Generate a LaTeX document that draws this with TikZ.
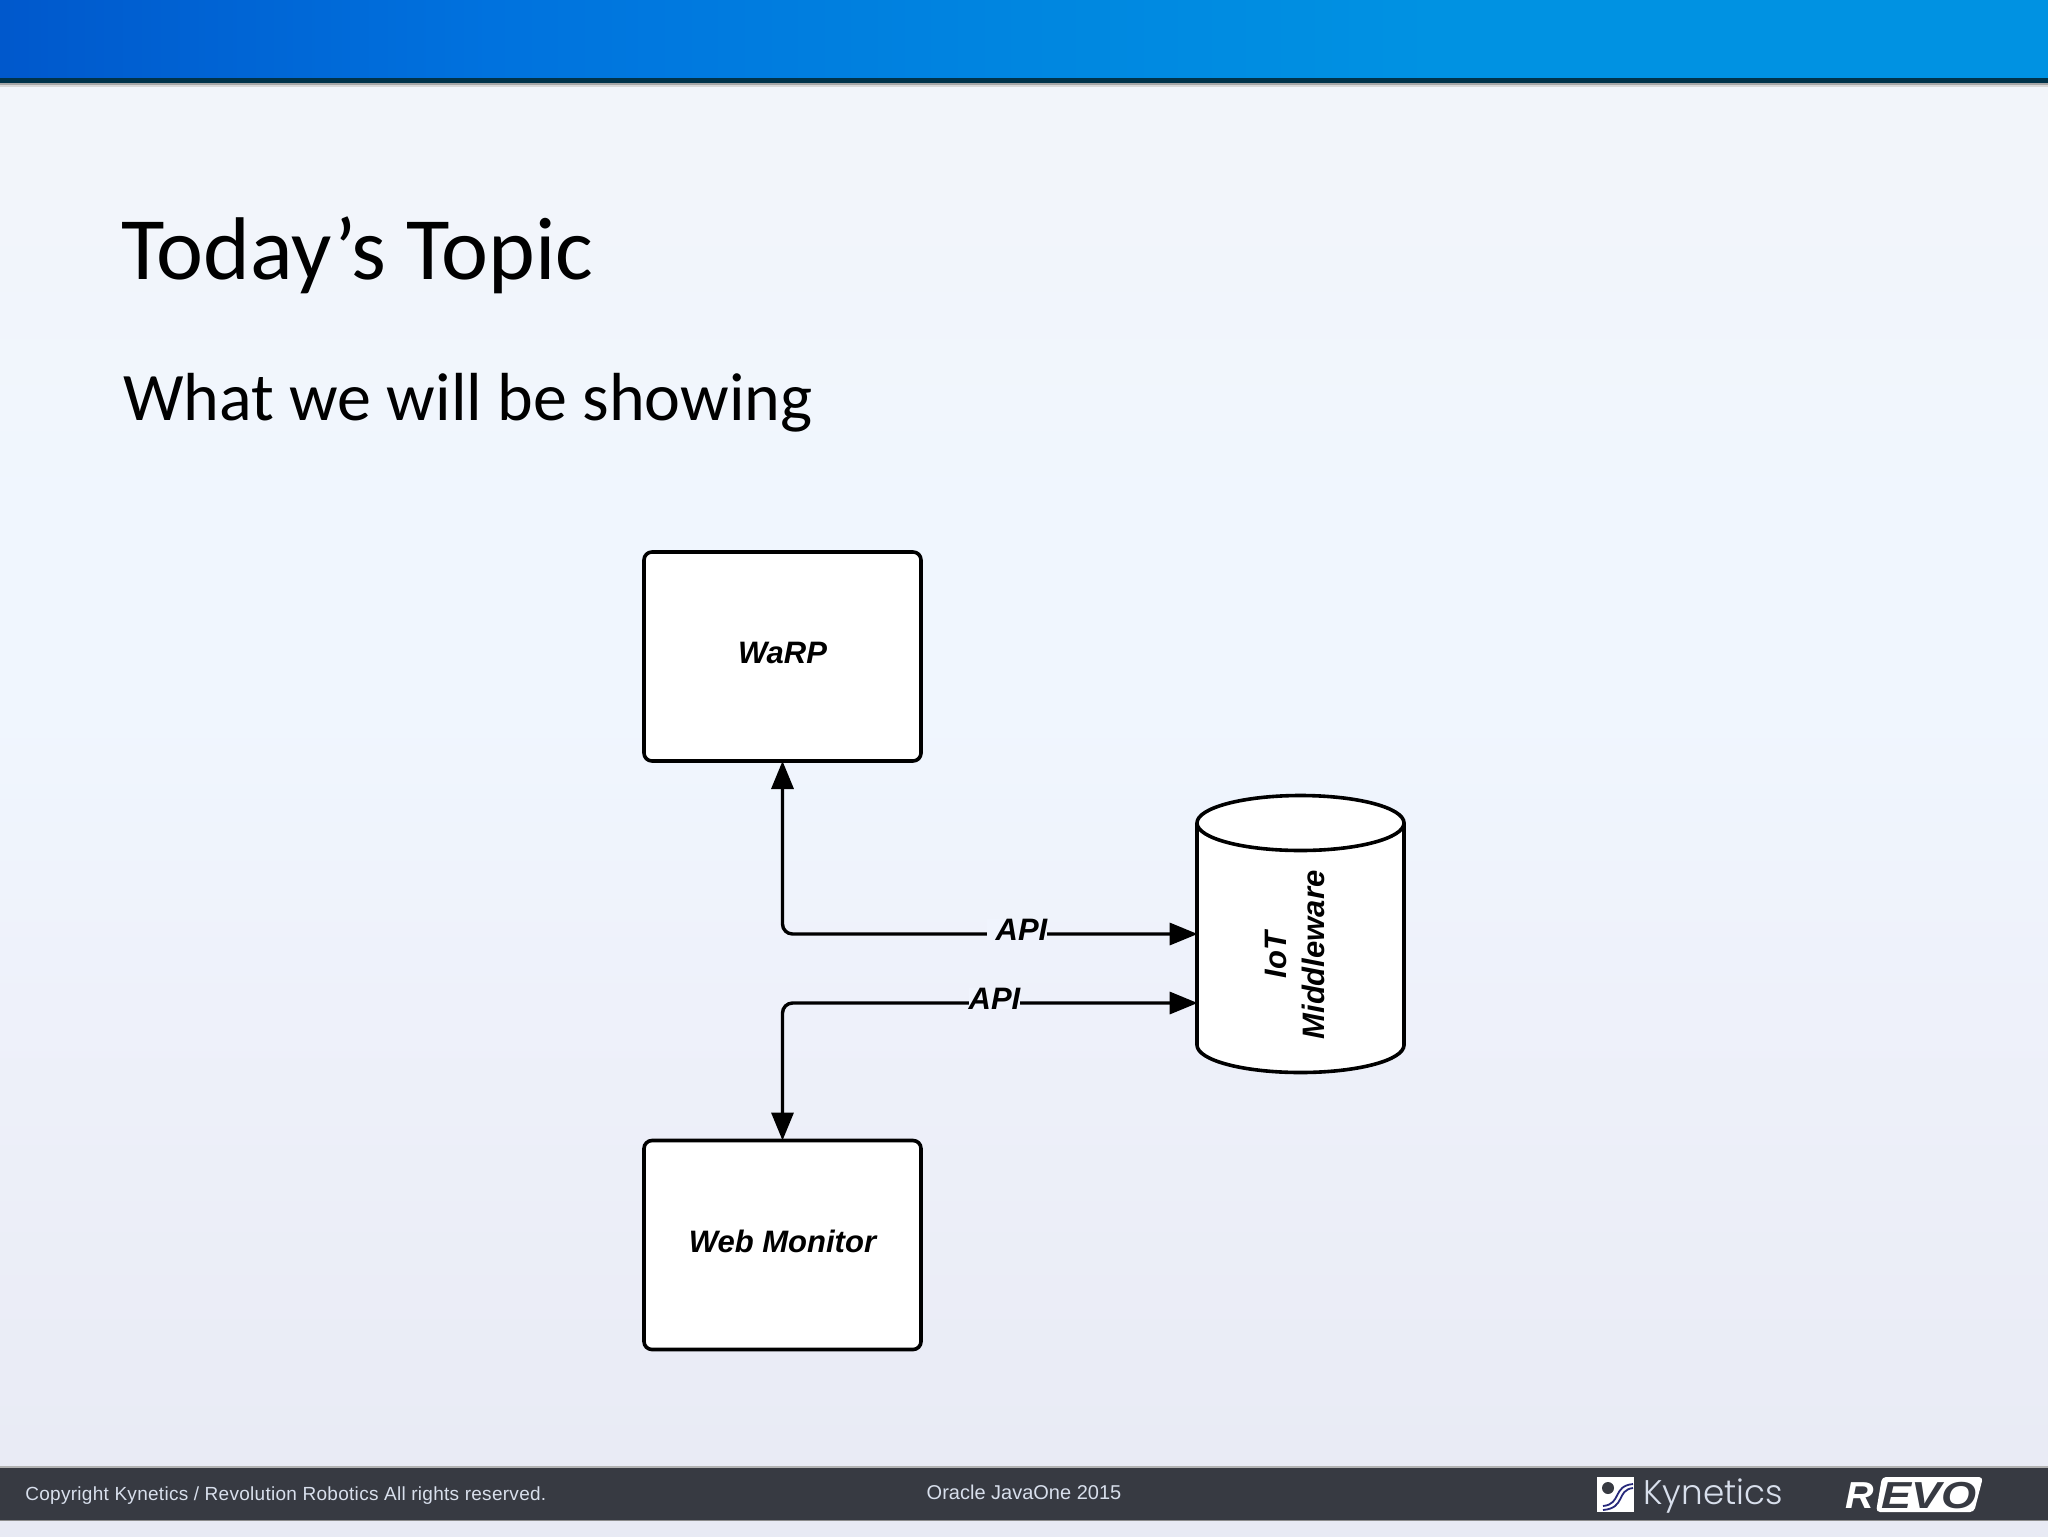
\documentclass[tikz,border=0pt]{standalone}
\usepackage{fontspec}
\setmainfont{Liberation Sans}
\newfontfamily\slidefont{Carlito}
\newfontfamily\logofont{Poppins Light}
\usetikzlibrary{arrows.meta,calc}
\definecolor{bgA}{HTML}{F2F5FA}
\definecolor{bgB}{HTML}{F0F6FE}
\definecolor{bgC}{HTML}{EEF1FA}
\definecolor{bgD}{HTML}{E8EAF4}
\definecolor{barA}{HTML}{0058CC}
\definecolor{barB}{HTML}{0072DE}
\definecolor{barC}{HTML}{0086E0}
\definecolor{barD}{HTML}{0092E2}
\definecolor{footbar}{HTML}{373A42}
\definecolor{foottext}{HTML}{D8DFEC}
\definecolor{labelbg}{HTML}{F0F4FD}
\pgfdeclareverticalshading{slidebg}{100bp}{color(0bp)=(bgD); color(25bp)=(bgD); color(42bp)=(bgC); color(52bp)=(bgB); color(58bp)=(bgB); color(70bp)=(bgA); color(75bp)=(bgA); color(100bp)=(bgA)}
\pgfdeclarehorizontalshading{topbar}{100bp}{color(0bp)=(barA); color(25bp)=(barA); color(37bp)=(barB); color(50bp)=(barC); color(60bp)=(barD); color(100bp)=(barD)}
\tikzset{
  x=0.5pt,y=-0.5pt,
  block/.style={draw=black,fill=white,line width=1.8pt,outer sep=0pt,rounded corners=4pt,minimum width=138.5pt,minimum height=104.5pt,inner sep=0pt,font=\fontsize{15.5}{18}\selectfont\bfseries\itshape},
  link/.style={draw=black,line width=1.7pt,rounded corners=5pt},
  headtip/.tip={Triangle[length=14pt,width=11pt]},
  apilabel/.style={fill=labelbg,inner sep=0pt,anchor=base,font=\fontsize{15.5}{18}\selectfont\bfseries\itshape},
  slidetext/.style={anchor=base west,inner sep=0pt,text=black,font=\slidefont},
  foot/.style={anchor=base,inner sep=0pt,text=foottext},
}
\begin{document}
\begin{tikzpicture}
\useasboundingbox (0,0) rectangle (2048,1536);
% background
\shade[shading=slidebg] (0,0) rectangle (2048,1536);
\shade[shading=topbar] (0,0) rectangle (2048,79);
\fill[black!85!blue!60!teal] (0,78) rectangle (2048,83);
\fill[black!35] (0,83) rectangle (2048,85);
\fill[black!15] (0,85) rectangle (2048,87);
% footer
\fill[footbar] (0,1467) rectangle (2048,1520);
\fill[black!30] (0,1466) rectangle (2048,1467.5);
\fill[black!45] (0,1519.5) rectangle (2048,1521);
% headings
\node[slidetext,font=\slidefont\fontsize{44.5}{52}\selectfont] (title) at (121,279.5) {Today’s Topic};
\node[slidetext,font=\slidefont\fontsize{34}{40}\selectfont] (subtitle) at (123,420) {What we will be showing};
% blocks
\node[block] (warp) at (782.5,656.5) {\raisebox{3.8pt}{WaRP}};
\node[block] (web) at (782.5,1245) {\raisebox{3.8pt}{Web Monitor}};
% cylinder
\draw[fill=white,line width=1.8pt] (1197,823) -- (1197,1045) arc[start angle=180,end angle=360,x radius=51.75pt,y radius=13.75pt] -- (1404,823);
\draw[fill=white,line width=1.8pt] (1300.5,823) ellipse[x radius=51.75pt,y radius=13.75pt];
\node[inner sep=0pt,minimum width=103.5pt,minimum height=111pt] (iot) at (1300.5,934) {};
\node[rotate=90,align=center,inner sep=0pt,font=\fontsize{15.5}{19}\selectfont\bfseries\itshape] (iottext) at (1295,955) {IoT\\Middleware};
% connectors
\coordinate (upper) at ($(iot.west)+(1,0)$);
\coordinate (lower) at ($(iot.west)+(1,69)$);
\draw[link,{headtip}-{headtip}] (warp.south) |- (upper);
\draw[link,{headtip}-{headtip}] (web.north) |- (lower);
\node[apilabel] (api1) at (1017,940) {\hspace*{4.5pt}API};
\node[apilabel] (api2) at (994.5,1009) {API};
% footer text
\node[foot,anchor=base west,font=\fontsize{9.5}{11}\selectfont\addfontfeatures{LetterSpace=1.5}] (copy) at (25,1500) {Copyright Kynetics / Revolution Robotics All rights reserved.};
\node[foot,font=\fontsize{10}{12}\selectfont] (oracle) at (1024,1499) {Oracle JavaOne 2015};
% Kynetics logo
\fill[white] (1597,1477) rectangle (1634,1512);
\fill[footbar] (1608,1488) circle[radius=6];
\draw[footbar!70!blue,line width=0.9pt] (1603,1506) .. controls (1622,1504) and (1612,1486) .. (1633,1484);
\draw[footbar!70!blue,line width=0.9pt] (1603,1510) .. controls (1626,1508) and (1616,1490) .. (1633,1488);
\node[foot,anchor=base west,text=foottext,font=\logofont\fontsize{17.1}{20}\selectfont] (kyn) at (1643,1504) {Kynetics};
% REVO logo
\fill[white,rounded corners=2pt] (1882,1477) -- (1983,1477) -- (1974,1512) -- (1876,1512) -- cycle;
\node[anchor=base west,inner sep=0pt,text=white,xscale=1.05,font=\fontsize{18.8}{22}\selectfont\bfseries\itshape] (revor) at (1845,1508) {R};
\node[anchor=base west,inner sep=0pt,text=footbar,xscale=1.2,font=\fontsize{18.8}{22}\selectfont\bfseries\itshape] (revoe) at (1881,1508) {EVO};
\end{tikzpicture}
\end{document}
